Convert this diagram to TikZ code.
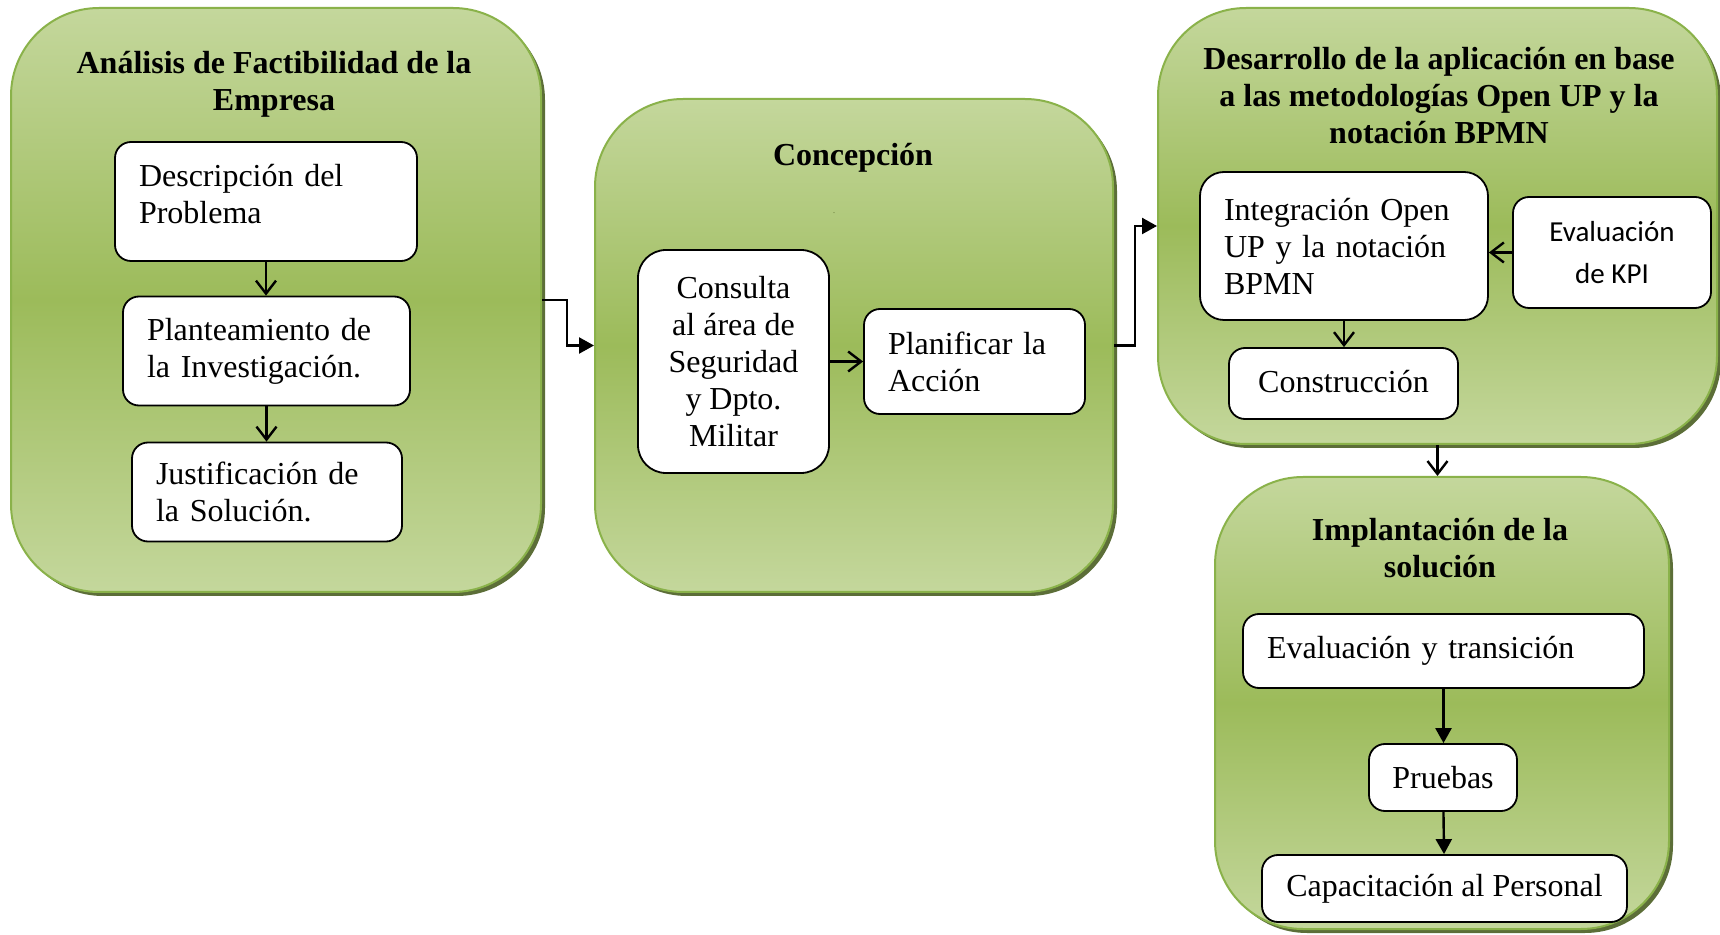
\documentclass[tikz,border=0pt]{standalone}
\usepackage{fontspec}
\setmainfont{Liberation Serif}
\newfontfamily\kpifont{Carlito}
\usetikzlibrary{arrows.meta,shadows}

\definecolor{verdeclaro}{RGB}{196,215,156}
\definecolor{verdemedio}{RGB}{156,187,90}
\definecolor{verdeborde}{RGB}{138,178,74}
\definecolor{verdesombra}{RGB}{74,94,34}

\begin{document}
\begin{tikzpicture}[x=0.5pt,y=0.5pt,yscale=-1,
  fase/.style={draw=verdeborde, line width=1pt, rounded corners=44pt, inner sep=0pt,
    top color=verdeclaro, bottom color=verdeclaro, middle color=verdemedio,
    drop shadow={shadow xshift=2pt, shadow yshift=-2pt, fill=verdesombra, opacity=0.9}},
  titulo/.style={font=\fontsize{16}{18.5}\selectfont\bfseries, align=center, inner sep=0pt},
  caja/.style={draw, fill=white, line width=0.9pt, rounded corners=8pt,
    font=\fontsize{16}{18.5}\selectfont, inner ysep=0pt},
  cajaizq/.style={caja, align=left, inner xsep=12pt},
  cajacen/.style={caja, align=center, inner xsep=0pt},
  flecha/.style={line width=1.2pt, -{Straight Barb[length=6.5pt,width=10pt,line width=1.2pt]}},
  flechallena/.style={line width=1.2pt, -{Triangle[length=7.5pt,width=8pt]}}
]
\useasboundingbox (0,0) rectangle (1720,935);

% Fases
\node [fase, minimum width=265pt, minimum height=292pt] (fase1) at (276,300) {};
\node [fase, minimum width=259pt, minimum height=246.5pt] (fase2) at (854,345.5) {};
\node [fase, minimum width=279.5pt, minimum height=218pt] (fase3) at (1437.5,226) {};
\node [fase, minimum width=227pt, minimum height=226pt] (fase4) at (1442,703) {};

% Titulos
\node [titulo] (t1) at (274,84) {Análisis de Factibilidad de la\\Empresa};
\node [titulo] (t2) at (853,158) {Concepción};
\node [titulo] (t3) at (1439,96) {Desarrollo de la aplicación en base\\a las metodologías Open UP y la\\notación BPMN};
\node [titulo] (t4) at (1440,548) {Implantación de la\\solución};
\node [inner sep=0pt, text=verdesombra] (punto) at (834,213) {\fontsize{4}{4}\selectfont .};

% Fase 1
\node [cajaizq, text width=127pt, minimum height=59.5pt, text depth=25.7pt] (desc) at (266,201.5) {Descripción del\\Problema};
\node [cajaizq, text width=119.5pt, minimum height=54.5pt] (plant) at (266.5,351) {Planteamiento de\\la Investigación.};
\node [cajaizq, text width=111pt, minimum height=49.5pt] (just) at (267,492) {Justificación de\\la Solución.};

% Fase 2
\node [cajacen, minimum width=95.5pt, minimum height=111.5pt, rounded corners=14pt] (consulta) at (733.5,361.5) {Consulta\\al área de\\Seguridad\\y Dpto.\\Militar};
\node [cajaizq, text width=86.5pt, minimum height=52.5pt] (planif) at (974.5,361.5) {Planificar la\\Acción};

% Fase 3
\node [cajaizq, text width=120pt, minimum height=74pt, rounded corners=12pt] (integ) at (1344,246) {Integración Open\\UP y la notación\\BPMN};
\node [cajacen, minimum width=99pt, minimum height=55.5pt, font=\kpifont\fontsize{14.5}{20.8}\selectfont] (kpi) at (1612,252.5) {Evaluación\\de KPI};
\node [cajacen, minimum width=114.5pt, minimum height=35.5pt, text depth=2pt] (constr) at (1343.5,383.5) {Construcción};

% Fase 4
\node [cajaizq, text width=176.5pt, minimum height=37pt] (evalt) at (1443.5,651) {Evaluación y transición};
\node [cajacen, minimum width=74pt, minimum height=33.5pt] (pruebas) at (1443,777.5) {Pruebas};
\node [cajacen, minimum width=182.5pt, minimum height=33.5pt] (capac) at (1444.5,888.5) {Capacitación al Personal};

% Conectores
\draw [flecha] (desc.south) -- (desc.south |- plant.north);
\draw [flecha] (plant.south) -- (plant.south |- just.north);
\draw [flecha] (consulta) -- (planif);
\draw [flecha] (kpi.west) -- (integ.east |- kpi.west);
\draw [flecha] (integ.south) -- (integ.south |- constr.north);
\draw [flecha] (fase3.south) -- (fase3.south |- fase4.north);
\draw [flechallena] (fase1.east) -- ++(25,0) |- (fase2.west);
\draw [flechallena] (fase2.east) -- ++(21,0) |- (fase3.west);
\draw [flechallena] (evalt.south) -- (evalt.south |- pruebas.north);
\draw [flechallena] (pruebas) -- (capac);
\end{tikzpicture}
\end{document}
